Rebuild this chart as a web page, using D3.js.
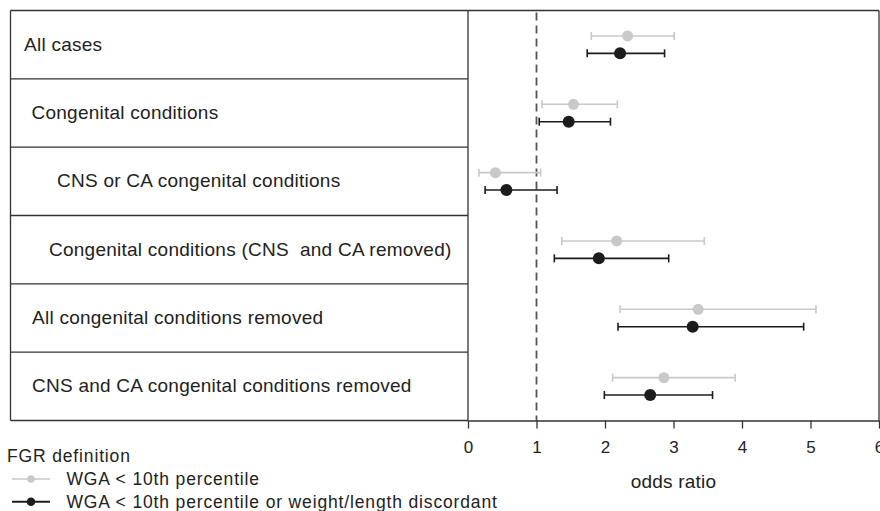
<!DOCTYPE html>
<html>
<head>
<meta charset="utf-8">
<script src="https://cdn.jsdelivr.net/npm/d3@7"></script>
<style>
  html, body { margin: 0; padding: 0; background: #fff; }
  svg { display: block; font-family: "Liberation Sans", Arial, Helvetica, sans-serif; }
</style>
</head>
<body>
<svg id="chart" width="880" height="511"></svg>
<script>
// ---- data ----
const categories = [
  "All cases",
  "Congenital conditions",
  "CNS or CA congenital conditions",
  "Congenital conditions (CNS\u00a0 and CA removed)",
  "All congenital conditions removed",
  "CNS and CA congenital conditions removed"
];
const seriesNames = ["WGA < 10th percentile", "WGA < 10th percentile or weight/length discordant"];
const orWGA   = [2.33, 1.54, 0.40, 2.17, 3.36, 2.86];
const loWGA   = [1.80, 1.08, 0.16, 1.37, 2.22, 2.11];
const hiWGA   = [3.01, 2.18, 1.06, 3.45, 5.08, 3.90];
const orDisc  = [2.22, 1.47, 0.56, 1.91, 3.28, 2.66];
const loDisc  = [1.74, 1.04, 0.25, 1.26, 2.19, 1.99];
const hiDisc  = [2.87, 2.08, 1.30, 2.93, 4.90, 3.57];
const xTicks  = [0, 1, 2, 3, 4, 5, 6];
const refValue = 1;
const legendTitle = "FGR definition";
const axisTitle = "odds ratio";

// ---- layout ----
const svg = d3.select("#chart");
const topY = 10.5, bottomY = 420.5, leftX = 10.5, splitX = 468, rightX = 879;
const labelIndent = [24, 31.5, 57, 49, 32, 32];
const colors = ["#c9c9c9", "#1c1c1c"];
const lineColor = "#333";

const x = d3.scaleLinear().domain([0, 6]).range([splitX, rightX]);
const y = d3.scaleBand().domain(categories).range([topY, bottomY]);
const off = d3.scalePoint().domain(seriesNames).range([-8.7, 8.7]);

// left label panel
const rows = svg.append("g");
categories.forEach((c, i) => {
  rows.append("line")
    .attr("x1", leftX).attr("x2", splitX)
    .attr("y1", y(c)).attr("y2", y(c))
    .attr("stroke", lineColor).attr("stroke-width", 1.3);
  rows.append("text")
    .attr("x", labelIndent[i])
    .attr("y", y(c) + y.bandwidth() / 2 + 6)
    .attr("font-size", 19)
    .attr("letter-spacing", 0.25)
    .attr("fill", "#222")
    .text(c);
});
rows.append("line").attr("x1", leftX).attr("x2", splitX).attr("y1", bottomY).attr("y2", bottomY)
  .attr("stroke", lineColor).attr("stroke-width", 1.3);
rows.append("line").attr("x1", leftX).attr("x2", leftX).attr("y1", topY).attr("y2", bottomY)
  .attr("stroke", lineColor).attr("stroke-width", 1.3);

// plot frame
svg.append("line").attr("x1", splitX).attr("x2", rightX).attr("y1", topY).attr("y2", topY)
  .attr("stroke", lineColor).attr("stroke-width", 1.3);
svg.append("line").attr("x1", splitX).attr("x2", splitX).attr("y1", topY).attr("y2", bottomY)
  .attr("stroke", lineColor).attr("stroke-width", 1.3);
svg.append("line").attr("x1", rightX).attr("x2", rightX).attr("y1", topY).attr("y2", bottomY)
  .attr("stroke", lineColor).attr("stroke-width", 1.3);

// reference line
svg.append("line")
  .attr("x1", x(refValue)).attr("x2", x(refValue))
  .attr("y1", topY + 2).attr("y2", bottomY)
  .attr("stroke", "#555").attr("stroke-width", 1.8)
  .attr("stroke-dasharray", "8,5");

// axis
const axis = svg.append("g")
  .attr("transform", `translate(0,${bottomY})`)
  .call(d3.axisBottom(x).tickValues(xTicks).tickFormat(d3.format("d"))
    .tickSize(8).tickSizeOuter(0).tickPadding(12));
axis.select(".domain").attr("stroke", lineColor).attr("stroke-width", 1.3);
axis.selectAll(".tick line").attr("stroke", lineColor).attr("stroke-width", 1.3);
axis.selectAll(".tick text")
  .attr("font-family", "'Liberation Sans Narrow', 'Liberation Sans', Arial, sans-serif")
  .attr("font-size", 17).attr("fill", "#222");

svg.append("text")
  .attr("x", x(3)).attr("y", 488)
  .attr("text-anchor", "middle")
  .attr("font-size", 19).attr("letter-spacing", 0.2).attr("fill", "#222")
  .text(axisTitle);

// series
const series = [
  { name: seriesNames[0], or: orWGA, lo: loWGA, hi: hiWGA, color: colors[0], r: 5.5, w: 1.6 },
  { name: seriesNames[1], or: orDisc, lo: loDisc, hi: hiDisc, color: colors[1], r: 6, w: 1.6 }
];
series.forEach(s => {
  const g = svg.append("g");
  categories.forEach((c, i) => {
    const cy = y(c) + y.bandwidth() / 2 + off(s.name);
    g.append("line").attr("x1", x(s.lo[i])).attr("x2", x(s.hi[i]))
      .attr("y1", cy).attr("y2", cy).attr("stroke", s.color).attr("stroke-width", s.w);
    [s.lo[i], s.hi[i]].forEach(v => {
      g.append("line").attr("x1", x(v)).attr("x2", x(v))
        .attr("y1", cy - 4).attr("y2", cy + 4)
        .attr("stroke", s.color).attr("stroke-width", s.w);
    });
    g.append("circle").attr("cx", x(s.or[i])).attr("cy", cy).attr("r", s.r).attr("fill", s.color);
  });
});

// legend
const leg = svg.append("g");
leg.append("text").attr("x", 7).attr("y", 461.5)
  .attr("font-size", 17.5).attr("letter-spacing", 0.85).attr("fill", "#222")
  .text(legendTitle);
series.forEach((s, i) => {
  const ly = 479 + i * 22.7;
  leg.append("line").attr("x1", 12).attr("x2", 50).attr("y1", ly).attr("y2", ly)
    .attr("stroke", s.color).attr("stroke-width", i ? 2 : 1.5);
  leg.append("circle").attr("cx", 31).attr("cy", ly).attr("r", i ? 4.3 : 3.8).attr("fill", s.color);
  leg.append("text").attr("x", 66.5).attr("y", ly + 6)
    .attr("font-size", 17.5).attr("letter-spacing", 0.85).attr("fill", "#222")
    .text(s.name);
});
</script>
</body>
</html>
